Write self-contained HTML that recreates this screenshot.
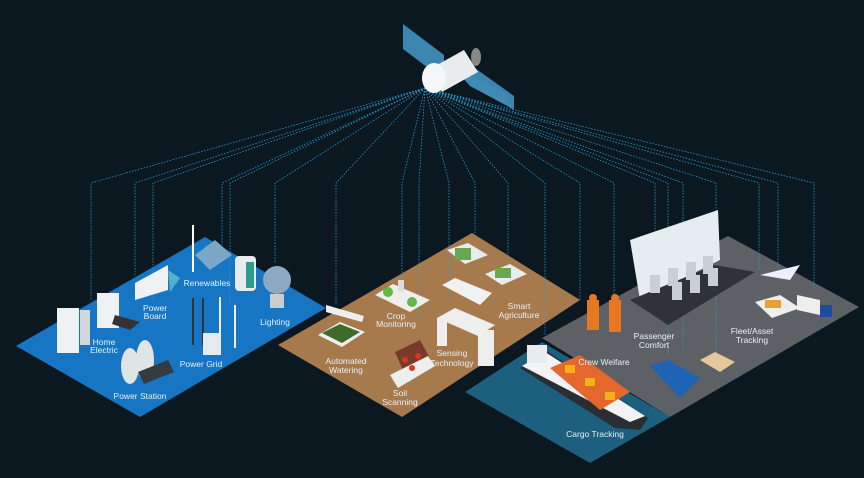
<!DOCTYPE html>
<html><head><meta charset="utf-8"><style>
html,body{margin:0;padding:0;background:#0b1820;}
svg{display:block}
text{font-family:"Liberation Sans",sans-serif;font-size:8.5px;fill:#e8f1f6;text-anchor:middle}
</style></head><body>
<svg width="864" height="478" viewBox="0 0 864 478" xmlns="http://www.w3.org/2000/svg">
<rect width="864" height="478" fill="#0b1820"/>
<!-- platforms -->
<polygon points="16,346 205,237 326,308 140,417" fill="#1676c4"/>
<polygon points="278,345 472,233 580,300 402,417" fill="#a77a4e"/>
<polygon points="542,338 728,236 859,307 670,417" fill="#5d6166"/>
<polygon points="465,392 542,342 670,417 590,463" fill="#1d5f7e"/>
<!-- dotted lines -->
<g fill="none" stroke="#2a9bd0" stroke-width="0.8" stroke-dasharray="1.5 1.5">
<path d="M425,88 L91,183 V300"/><path d="M425,88 L135,183 V275"/><path d="M425,88 L153,183 V300"/>
<path d="M425,88 L222,183 V245"/><path d="M425,88 L230,183 V305"/><path d="M425,88 L275,183 V262"/>
<path d="M425,88 L336,183 V305"/><path d="M425,88 L402,183 V280"/><path d="M425,88 L419,183 V320"/>
<path d="M425,88 L449,183 V300"/><path d="M425,88 L475,183 V235"/><path d="M425,88 L508,183 V262"/>
<path d="M425,88 L545,183 V335"/><path d="M425,88 L580,183 V300"/><path d="M425,88 L614,183 V300"/>
<path d="M425,88 L655,183 V290"/><path d="M425,88 L668,183 V355"/><path d="M425,88 L683,183 V350"/>
<path d="M425,88 L716,183 V360"/><path d="M425,88 L759,183 V270"/><path d="M425,88 L778,183 V280"/>
<path d="M425,88 L814,183 V290"/>
</g>
<!-- satellite -->
<polygon points="403,24 444,55 444,80 403,49" fill="#3a86b0"/>
<polygon points="472,66 514,96 514,110 472,82" fill="#3a86b0"/>
<polygon points="452,66 505,93 513,109 470,86" fill="#3f8bb5"/>
<polygon points="428,70 464,50 478,72 442,92" fill="#e8ecef"/>
<ellipse cx="434" cy="78" rx="12" ry="15" fill="#f4f6f7"/>
<ellipse cx="476" cy="57" rx="5" ry="9" fill="#888"/>
<!-- blue platform objects -->
<rect x="57" y="308" width="22" height="45" fill="#eef2f4"/><rect x="80" y="310" width="10" height="35" fill="#d0d8dc"/>
<rect x="97" y="293" width="22" height="35" fill="#eef2f4"/><polygon points="115,315 140,322 130,330 112,324" fill="#333"/>
<polygon points="135,283 168,265 168,290 135,300" fill="#eef2f4"/><polygon points="168,270 180,278 170,292" fill="#7fd6d0" opacity=".6"/>
<line x1="193" y1="225" x2="193" y2="272" stroke="#fff" stroke-width="2"/>
<polygon points="195,255 215,240 232,255 210,270" fill="#7aa8c6"/>
<rect x="235" y="256" width="21" height="35" rx="4" fill="#e8ecef"/><rect x="246" y="262" width="8" height="26" fill="#2e9b8e"/>
<circle cx="277" cy="280" r="14" fill="#8da9c2"/><rect x="270" y="294" width="14" height="14" fill="#ccc"/>
<g stroke="#333" stroke-width="2"><line x1="193" y1="298" x2="193" y2="345"/><line x1="203" y1="298" x2="203" y2="345"/></g>
<line x1="220" y1="297" x2="220" y2="345" stroke="#eee" stroke-width="2"/><line x1="235" y1="305" x2="235" y2="348" stroke="#eee" stroke-width="2"/>
<rect x="203" y="333" width="18" height="22" fill="#e6eaec"/>
<ellipse cx="130" cy="366" rx="9" ry="18" fill="#dfe4e7"/><ellipse cx="145" cy="360" rx="9" ry="20" fill="#dfe4e7"/>
<polygon points="138,372 168,360 174,372 144,384" fill="#333a40"/>
<!-- brown platform objects -->
<polygon points="326,305 364,316 362,322 326,312" fill="#eee"/>
<polygon points="318,335 340,322 365,332 342,347" fill="#eee"/><polygon points="322,333 340,324 360,332 342,343" fill="#3e6b2a"/>
<polygon points="375,295 393,284 430,300 410,312" fill="#eee"/><circle cx="388" cy="292" r="5" fill="#5fb944"/><circle cx="412" cy="302" r="5" fill="#5fb944"/>
<rect x="398" y="280" width="6" height="12" fill="#ddd"/>
<polygon points="395,352 420,340 432,362 405,375" fill="#7a3a2a"/><polygon points="390,375 428,356 435,366 398,388" fill="#eee"/>
<circle cx="405" cy="360" r="3" fill="#d32"/><circle cx="418" cy="356" r="3" fill="#d32"/><circle cx="412" cy="368" r="3" fill="#d32"/>
<polygon points="442,285 455,278 492,293 480,305" fill="#f0f2f2"/>
<polygon points="437,318 455,308 495,325 478,336" fill="#eee"/><rect x="437" y="318" width="10" height="28" fill="#eee"/><rect x="478" y="330" width="16" height="36" fill="#eee"/>
<polygon points="447,250 468,243 488,255 465,264" fill="#e8ecef"/><rect x="455" y="248" width="16" height="12" fill="#6aa84f"/>
<polygon points="485,274 510,264 527,274 502,285" fill="#e8ecef"/><rect x="495" y="268" width="16" height="10" fill="#6aa84f"/>
<!-- gray platform objects -->
<polygon points="630,240 718,210 720,260 640,300" fill="#e6ecef"/>
<polygon points="630,300 715,265 755,272 668,325" fill="#2f3236"/>
<g fill="#c9d0d5"><rect x="650" y="275" width="10" height="18"/><rect x="668" y="268" width="10" height="18"/><rect x="686" y="262" width="10" height="18"/><rect x="703" y="256" width="10" height="18"/><rect x="672" y="282" width="10" height="18"/><rect x="690" y="275" width="10" height="18"/><rect x="708" y="268" width="10" height="18"/></g>
<g fill="#e87722"><rect x="587" y="300" width="12" height="30"/><rect x="609" y="300" width="12" height="32"/></g>
<circle cx="593" cy="298" r="4" fill="#e87722"/><circle cx="615" cy="298" r="4" fill="#e87722"/>
<polygon points="760,275 800,265 790,280" fill="#eef"/><polygon points="755,302 780,295 800,308 772,318" fill="#eee"/><rect x="765" y="300" width="16" height="8" fill="#e8a030"/>
<polygon points="797,295 820,300 820,315 797,310" fill="#eee"/><rect x="820" y="305" width="12" height="12" fill="#1d4c9b"/>
<polygon points="650,366 668,360 700,378 680,398" fill="#1e63b4"/>
<polygon points="700,360 715,352 735,362 720,372" fill="#e4c79a"/>
<!-- ship -->
<polygon points="520,368 545,350 648,418 640,430 615,428" fill="#2a2d31"/>
<polygon points="522,366 545,352 645,416 630,422" fill="#f2f3f4"/>
<polygon points="550,368 580,355 630,392 600,410" fill="#e4672c"/>
<rect x="565" y="365" width="10" height="8" fill="#f4b019"/><rect x="585" y="378" width="10" height="8" fill="#f4b019"/><rect x="605" y="392" width="10" height="8" fill="#f4b019"/>
<rect x="527" y="345" width="20" height="18" fill="#e8ecef"/>
<!-- labels -->
<text x="207" y="286">Renewables</text>
<text x="155" y="311">Power</text><text x="155" y="319">Board</text>
<text x="104" y="345">Home</text><text x="104" y="353">Electric</text>
<text x="275" y="325">Lighting</text>
<text x="201" y="367">Power Grid</text>
<text x="140" y="399">Power Station</text>
<text x="396" y="319">Crop</text><text x="396" y="327">Monitoring</text>
<text x="346" y="364">Automated</text><text x="346" y="373">Watering</text>
<text x="400" y="396">Soil</text><text x="400" y="405">Scanning</text>
<text x="452" y="356">Sensing</text><text x="452" y="366">Technology</text>
<text x="519" y="309">Smart</text><text x="519" y="318">Agriculture</text>
<text x="604" y="365">Crew Welfare</text>
<text x="654" y="339">Passenger</text><text x="654" y="348">Comfort</text>
<text x="752" y="334">Fleet/Asset</text><text x="752" y="343">Tracking</text>
<text x="595" y="437">Cargo Tracking</text>
</svg>
</body></html>
